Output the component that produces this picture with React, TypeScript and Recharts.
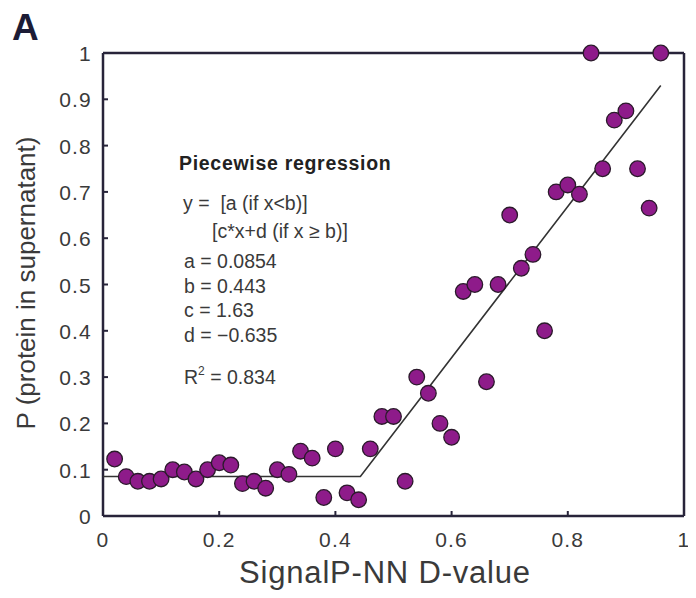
import React from "react";
import { ScatterChart, Scatter, XAxis, YAxis } from "recharts";

const dValues = [
  0.02, 0.04, 0.06, 0.08, 0.1, 0.12, 0.14, 0.16, 0.18, 0.2, 0.22, 0.24, 0.26, 0.28, 0.3, 0.32,
  0.34, 0.36, 0.38, 0.4, 0.42, 0.44, 0.46, 0.48, 0.5, 0.52, 0.54, 0.56, 0.58, 0.6, 0.62, 0.64,
  0.66, 0.68, 0.7, 0.72, 0.74, 0.76, 0.78, 0.8, 0.82, 0.84, 0.86, 0.88, 0.9, 0.92, 0.94, 0.96,
];
const pValues = [
  0.123, 0.085, 0.075, 0.075, 0.08, 0.1, 0.095, 0.08, 0.1, 0.115, 0.11, 0.07, 0.075, 0.06, 0.1, 0.09,
  0.14, 0.125, 0.04, 0.145, 0.05, 0.035, 0.145, 0.215, 0.215, 0.075, 0.3, 0.265, 0.2, 0.17, 0.485, 0.5,
  0.29, 0.5, 0.65, 0.535, 0.565, 0.4, 0.7, 0.715, 0.695, 1.0, 0.75, 0.855, 0.875, 0.75, 0.665, 1.0,
];
const fitX = [0, 0.443, 0.96];
const fitY = [0.0854, 0.0854, 0.93];
const xTicks = [0, 0.2, 0.4, 0.6, 0.8, 1];
const yTicks = [0, 0.1, 0.2, 0.3, 0.4, 0.5, 0.6, 0.7, 0.8, 0.9, 1];
const paramLines = ["a = 0.0854", "b = 0.443", "c = 1.63", "d = \u22120.635"];

const points = dValues.map((x, i) => ({ x, y: pValues[i] }));
const fitLine = fitX.map((x, i) => ({ x, y: fitY[i] }));

const FONT = "'Liberation Sans', Arial, Helvetica, sans-serif";
const AXIS = "#28243a";
const TXT = "#3a3a3a";

const fmt = (v: number) => (v === 0 ? "0" : v === 1 ? "1" : String(v));

const BottomTick = (props: any) => {
  const { x, y, payload } = props;
  return (
    <g>
      <path d={`M${x},${y}V${y - 5}`} stroke={AXIS} strokeWidth={2} fill="none" />
      <text x={x} y={y + 31} textAnchor="middle" fontSize={21} letterSpacing={1.2} fill={TXT} fontFamily={FONT}>
        {fmt(payload.value)}
      </text>
    </g>
  );
};
const TopTick = (props: any) => {
  const { x, y } = props;
  return <path d={`M${x},${y}V${y + 5}`} stroke={AXIS} strokeWidth={2} fill="none" />;
};
const LeftTick = (props: any) => {
  const { x, y, payload } = props;
  return (
    <g>
      <path d={`M${x},${y}H${x + 5}`} stroke={AXIS} strokeWidth={2} fill="none" />
      <text x={x - 11} y={y + 8} textAnchor="end" fontSize={21} letterSpacing={1.2} fill={TXT} fontFamily={FONT}>
        {fmt(payload.value)}
      </text>
    </g>
  );
};
const RightTick = (props: any) => {
  const { x, y } = props;
  return <path d={`M${x},${y}H${x - 5}`} stroke={AXIS} strokeWidth={2} fill="none" />;
};

const Dot = (props: any) => {
  const { cx, cy } = props;
  return <circle cx={cx} cy={cy} r={7.8} fill="#8e1b8a" stroke="#2b1a2b" strokeWidth={1.3} />;
};
const NoDot = () => <g />;

const W = 680;
const H = 582;

export default function App() {
  return (
    <div style={{ position: "relative", width: W, height: H }}>
      <ScatterChart
        width={W}
        height={H}
        margin={{ top: 44, right: 3, bottom: 34, left: 0 }}
        style={{ overflow: "visible" }}
      >
        <XAxis
          xAxisId="b"
          type="number"
          dataKey="x"
          domain={[0, 1]}
          ticks={xTicks}
          orientation="bottom"
          height={40}
          tickSize={0}
          tickMargin={0}
          tickLine={false}
          stroke={AXIS}
          axisLine={{ stroke: AXIS, strokeWidth: 2.5 }}
          tick={<BottomTick />}
          interval={0}
        />
        <XAxis
          xAxisId="t"
          type="number"
          dataKey="x"
          domain={[0, 1]}
          ticks={xTicks}
          orientation="top"
          height={1}
          tickSize={0}
          tickMargin={0}
          tickLine={false}
          stroke={AXIS}
          axisLine={{ stroke: AXIS, strokeWidth: 2.5 }}
          tick={<TopTick />}
          interval={0}
        />
        <YAxis
          yAxisId="l"
          type="number"
          dataKey="y"
          domain={[0, 1]}
          ticks={yTicks}
          orientation="left"
          width={95}
          tickSize={0}
          tickMargin={0}
          tickLine={false}
          stroke={AXIS}
          axisLine={{ stroke: AXIS, strokeWidth: 2.5 }}
          tick={<LeftTick />}
          interval={0}
        />
        <YAxis
          yAxisId="r"
          type="number"
          dataKey="y"
          domain={[0, 1]}
          ticks={yTicks}
          orientation="right"
          width={1}
          tickSize={0}
          tickMargin={0}
          tickLine={false}
          stroke={AXIS}
          axisLine={{ stroke: AXIS, strokeWidth: 2.5 }}
          tick={<RightTick />}
          interval={0}
        />
        <Scatter
          xAxisId="b"
          yAxisId="l"
          data={fitLine}
          line={{ stroke: "#333", strokeWidth: 1.6 }}
          shape={<NoDot />}
          isAnimationActive={false}
        />
        <Scatter xAxisId="b" yAxisId="l" data={points} shape={<Dot />} isAnimationActive={false} />
      </ScatterChart>

      <svg
        width={W}
        height={H}
        style={{ position: "absolute", left: 0, top: 0, pointerEvents: "none", overflow: "visible" }}
        fontFamily={FONT}
      >
        <text x={4} y={32} fontSize={37} fontWeight={700} fill="#1c1c36">
          A
        </text>
        <text x={27} y={275} transform="rotate(-90 27 275)" textAnchor="middle" fontSize={26} fill={TXT}>
          P (protein in supernatant)
        </text>
        <text x={377} y={575} textAnchor="middle" fontSize={31} letterSpacing={0.8} fill={TXT}>
          SignalP-NN D-value
        </text>
        <text x={171} y={162} fontSize={19.5} fontWeight={700} letterSpacing={0.7} fill="#222">
          Piecewise regression
        </text>
        <text x={175} y={202} fontSize={19.5} fill={TXT}>
          y = &#160;[a (if x&lt;b)]
        </text>
        <text x={204} y={230} fontSize={19.5} fill={TXT}>
          [c*x+d (if x &#8805; b)]
        </text>
        {paramLines.map((t, i) => (
          <text key={t} x={176} y={260 + i * 24.5} fontSize={19.5} fill={TXT}>
            {t}
          </text>
        ))}
        <text x={176} y={376} fontSize={19.5} fill={TXT}>
          R
          <tspan fontSize={12} dy={-9}>
            2
          </tspan>
          <tspan dy={9}> = 0.834</tspan>
        </text>
      </svg>
    </div>
  );
}
